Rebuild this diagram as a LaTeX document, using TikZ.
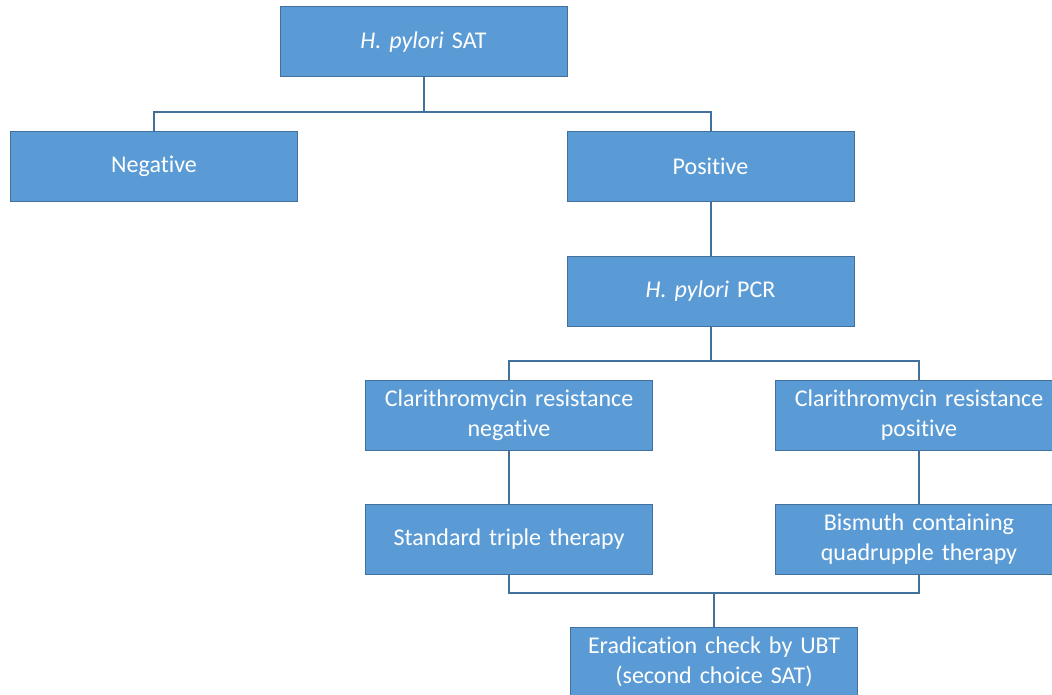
\documentclass[tikz,border=0pt]{standalone}
\usepackage{fontspec}
\setmainfont{Carlito}[RawFeature=-liga]
\usetikzlibrary{calc}
\definecolor{boxfill}{RGB}{91,155,213}
\definecolor{boxline}{RGB}{65,113,156}
\tikzset{
  stepbox/.style={draw=boxline, fill=boxfill, line width=1pt, text=white,
    minimum width=287pt, minimum height=70pt, text width=280pt, align=center,
    inner sep=0pt, font=\fontsize{24}{30}\selectfont},
  link/.style={draw=boxline, line width=2pt}
}

\begin{document}
\begin{tikzpicture}[x=1pt, y=-1pt]
			%%%%% START %%%%%
			\clip (0, 0) rectangle (1052, 695);
			
			\node[stepbox] (sat) at (423.5, 42) {\textit{H. pylori} SAT};
			\node[stepbox] (neg) at (154, 166.5) {Negative};
			\node[stepbox] (pos) at (710.5, 166.5) {Positive};
			\node[stepbox] (pcr) at (710.5, 291) {\textit{H. pylori} PCR};
			
			\node[stepbox] (crneg) at (509, 415) {Clarithromycin resistance\\negative};
			\node[stepbox] (crpos) at (919, 415) {Clarithromycin resistance\\positive};
			\node[stepbox] (std) at (509, 539) {Standard triple therapy};
			\node[stepbox] (bis) at (919, 539) {Bismuth containing\\quadrupple therapy};
			
			\node[stepbox] (erad) at (714, 662) {Eradication check by UBT\\(second choice SAT)};
			
			\coordinate (bus1) at (0, 112);
			\coordinate (bus2) at (0, 361);
			\coordinate (bus3) at (0, 593);
			
			\draw[link] (sat.south) -- (sat.south |- bus1) -| (neg.north);
			\draw[link] (sat.south |- bus1) -| (pos.north);
			\draw[link] (pos.south) -- (pcr.north);
			
			\draw[link] (pcr.south) -- (pcr.south |- bus2) -| (crneg.north);
			\draw[link] (pcr.south |- bus2) -| (crpos.north);
			\draw[link] (crneg.south) -- (std.north);
			\draw[link] (crpos.south) -- (bis.north);
			
			\draw[link] (std.south) -- (std.south |- bus3) -| (bis.south);
			\draw[link] (erad.north) -- (erad.north |- bus3);
			
			%%%%% END %%%%%
		\end{tikzpicture}
\end{document}
